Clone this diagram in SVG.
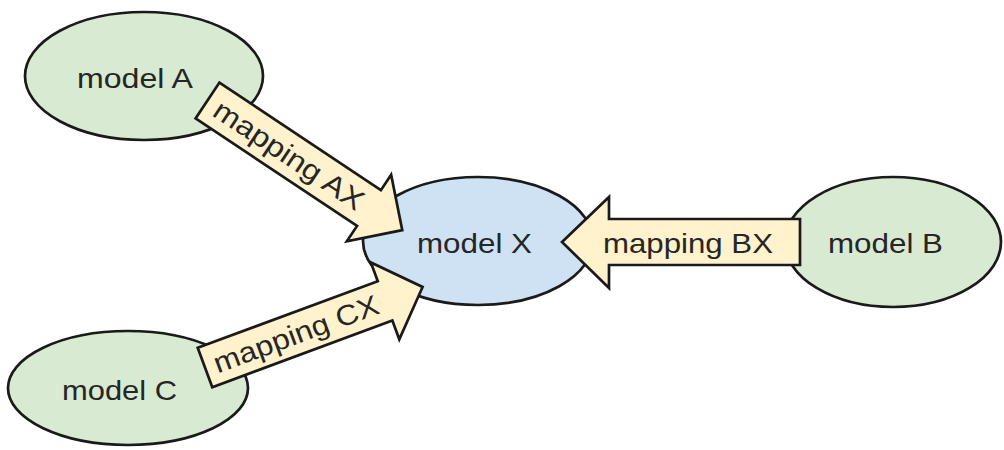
<svg xmlns="http://www.w3.org/2000/svg" width="1004" height="450" viewBox="0 0 1004 450">
<style>
.node{stroke:#1a1a1a;stroke-width:2.7}
.green{fill:#d9ead3}
.blue{fill:#cfe2f3}
.arrow{fill:#fff2cc;stroke:#1a1a1a;stroke-width:2.7;stroke-linejoin:miter}
text{font-family:"Liberation Sans",Arial,sans-serif;font-size:28.5px;fill:#262626}
</style>
<rect width="1004" height="450" fill="#ffffff"/>
<g id="nodeA"><ellipse class="node green" cx="144" cy="76" rx="119" ry="64"/><text x="77" y="88" textLength="116" lengthAdjust="spacingAndGlyphs">model A</text></g>
<g id="nodeX"><ellipse class="node blue" cx="478" cy="241" rx="115" ry="64"/><text x="417" y="253" textLength="115" lengthAdjust="spacingAndGlyphs">model X</text></g>
<g id="nodeB"><ellipse class="node green" cx="893" cy="242" rx="108" ry="65"/><text x="828" y="253" textLength="115" lengthAdjust="spacingAndGlyphs">model B</text></g>
<g id="nodeC"><ellipse class="node green" cx="128" cy="388" rx="120" ry="57"/><text x="62" y="400" textLength="115" lengthAdjust="spacingAndGlyphs">model C</text></g>
<g id="connectors">
<g id="mappingAX" transform="translate(207.5,100.5) rotate(33.66)">
<polygon class="arrow" points="0,-21.5 194,-21.5 194,-40 234,0 194,40 194,21.5 0,21.5"/>
<text x="98" y="10" text-anchor="middle" textLength="174" lengthAdjust="spacingAndGlyphs">mapping AX</text>
</g>
<g id="mappingCX" transform="translate(205,367.5) rotate(-20.3)">
<polygon class="arrow" points="0,-21 192,-21 192,-41 232,0 192,41 192,21 0,21"/>
<text x="97" y="10" text-anchor="middle" textLength="174" lengthAdjust="spacingAndGlyphs">mapping CX</text>
</g>
<g id="mappingBX">
<polygon class="arrow" points="800,219 609,219 609,197 562,242 609,288 609,265 800,265"/>
<text x="603" y="253" textLength="170" lengthAdjust="spacingAndGlyphs">mapping BX</text>
</g>
</g>
</svg>
